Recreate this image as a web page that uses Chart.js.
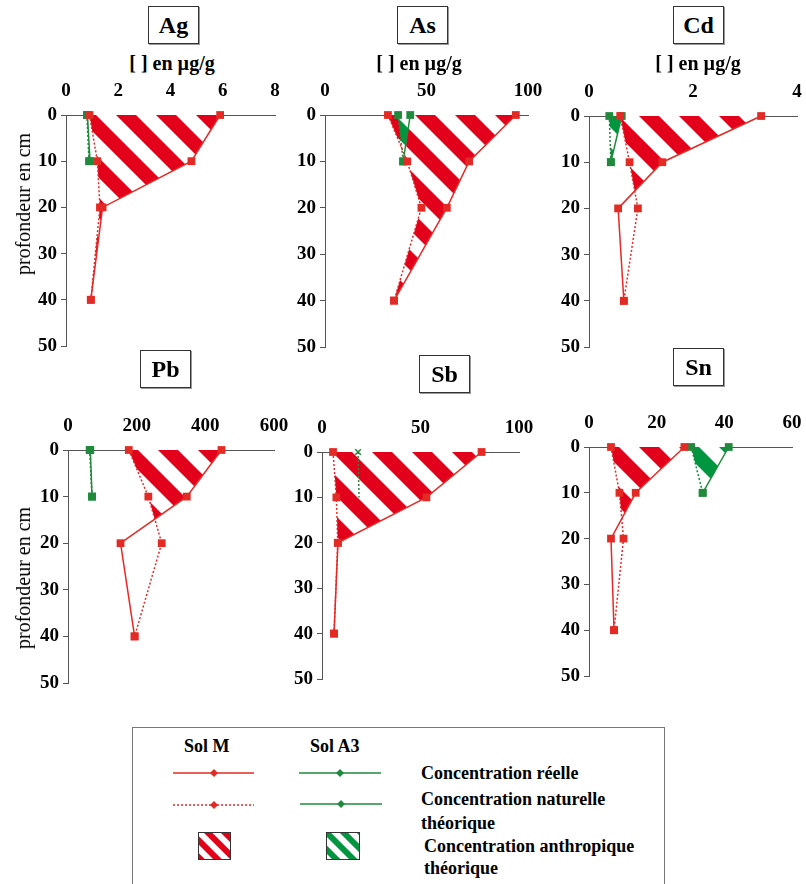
<!DOCTYPE html>
<html>
<head>
<meta charset="utf-8">
<script src="https://cdn.jsdelivr.net/npm/chart.js@4.4.0/dist/chart.umd.min.js"></script>
<style>
  html, body { margin: 0; padding: 0; background: #fff; }
  body { width: 806px; height: 884px; overflow: hidden; position: relative; font-family: "Liberation Serif", "Times New Roman", serif; color: #000; }
  canvas.panel { position: absolute; }
  .elt { position: absolute; width: 51px; height: 38px; border: 1px solid #333; box-shadow: 1px 1px 0 #999; box-sizing: border-box; text-align: center; line-height: 36px; font-weight: bold; font-size: 24px; background: #fff; }
  .unit { position: absolute; top: 52px; font-weight: bold; font-size: 20px; line-height: 22px; transform: translateX(-50%); white-space: nowrap; }
  .depth { position: absolute; font-size: 20px; line-height: 20px; white-space: nowrap; transform: translate(-50%, -50%) rotate(-90deg); }
  #legend { position: absolute; left: 132px; top: 727px; width: 533px; height: 170px; border: 1px solid #777; box-sizing: border-box; }
  #legend .t { position: absolute; font-weight: bold; font-size: 18px; line-height: 20px; white-space: nowrap; }
  #legend svg { position: absolute; left: 0; top: 0; }
</style>
</head>
<body>

<div id="legend">
  <svg width="533" height="170">
    <defs>
      <pattern id="hatchRed" width="12" height="12" patternUnits="userSpaceOnUse" patternTransform="rotate(-45)">
        <rect width="12" height="12" fill="#fff"/><rect width="6" height="12" fill="#e2001a"/>
      </pattern>
      <pattern id="hatchGreen" width="12" height="12" patternUnits="userSpaceOnUse" patternTransform="rotate(-45)">
        <rect width="12" height="12" fill="#fff"/><rect width="6" height="12" fill="#009640"/>
      </pattern>
    </defs>
    <line x1="40" y1="45" x2="121" y2="45" stroke="#e42a24" stroke-width="1.5"/>
    <polygon points="81,41 85,45 81,49 77,45" fill="#e42a24"/>
    <line x1="166" y1="45" x2="248" y2="45" stroke="#1f8a3c" stroke-width="1.5"/>
    <polygon points="207,41 211,45 207,49 203,45" fill="#1f8a3c"/>
    <line x1="40" y1="77" x2="121" y2="77" stroke="#e42a24" stroke-width="1.5" stroke-dasharray="2,2"/>
    <polygon points="81,73 85,77 81,81 77,77" fill="#e42a24"/>
    <line x1="167" y1="76" x2="249" y2="76" stroke="#1f8a3c" stroke-width="1.5"/>
    <polygon points="208,72 212,76 208,80 204,76" fill="#1f8a3c"/>
    <rect x="65.5" y="104.5" width="32" height="27" fill="url(#hatchRed)" stroke="#333"/>
    <rect x="193.5" y="104.5" width="33" height="27" fill="url(#hatchGreen)" stroke="#333"/>
  </svg>
  <div class="t" style="left:51px; top:8px;">Sol M</div>
  <div class="t" style="left:177px; top:8px;">Sol A3</div>
  <div class="t" style="left:288px; top:35px;">Concentration réelle</div>
  <div class="t" style="left:288px; top:61px;">Concentration naturelle</div>
  <div class="t" style="left:288px; top:85px;">théorique</div>
  <div class="t" style="left:291px; top:108px;">Concentration anthropique</div>
  <div class="t" style="left:291px; top:130px;">théorique</div>
</div>

<script>
// Depths (cm) of the samples
const depthsM = [0, 10, 20, 40];
const depthsA3 = [0, 10];
const depthTicks = [0, 10, 20, 30, 40, 50];

// Ag
const agTicks = [0, 2, 4, 6, 8];
const agMReal = [5.9, 4.8, 1.4, 0.95];
const agMNat = [0.9, 1.2, 1.3, 0.95];
const agA3Real = [0.82, 0.92];
const agA3Nat = [0.8, 0.88];

// As
const asTicks = [0, 50, 100];
const asMReal = [94, 71, 60, 34];
const asMNat = [31, 40.5, 47.5, 34];
const asA3Real = [42, 38.5];
const asA3Nat = [36, 38.5];

// Cd
const cdTicks = [0, 2, 4];
const cdMReal = [3.31, 1.41, 0.56, 0.67];
const cdMNat = [0.6, 0.78, 0.94, 0.67];
const cdA3Real = [0.63, 0.42];
const cdA3Nat = [0.39, 0.42];

// Pb
const pbTicks = [0, 200, 400, 600];
const pbMReal = [447, 346, 153, 194];
const pbMNat = [177, 234, 273, 194];
const pbA3Real = [65, 70];
const pbA3Nat = [63, 70];

// Sb
const sbTicks = [0, 50, 100];
const sbMReal = [81, 53, 8.1, 6.1];
const sbMNat = [5.6, 7.3, 8.0, 6.1];
const sbA3Real = [];
const sbA3Nat = [18.3, 18.8];

// Sn
const snTicks = [0, 20, 40, 60];
const snMReal = [28.2, 13.8, 6.5, 7.4];
const snMNat = [6.5, 9, 10.2, 7.4];
const snA3Real = [41.3, 33.6];
const snA3Nat = [30.2, 33.6];

const RED = '#e42a24';
const GREEN = '#1f8a3c';
const FONT = '"Liberation Serif", "Times New Roman", serif';

// Striped pattern used for the anthropic part
function makeHatch(color) {
    const p = 40;
    const c = document.createElement('canvas');
    c.width = p; c.height = p;
    const g = c.getContext('2d');
    g.fillStyle = '#fff';
    g.fillRect(0, 0, p, p);
    g.strokeStyle = color;
    g.lineWidth = p / Math.SQRT2 / 2;
    for (let k = -1; k <= 1; k++) {
        g.beginPath();
        g.moveTo(k * p - p, -p);
        g.lineTo(k * p + 2 * p, 2 * p);
        g.stroke();
    }
    return g.createPattern(c, 'repeat');
}
const hatchRed = makeHatch('#e2001a');
const hatchGreen = makeHatch('#009640');

// Fill between real and natural profiles where real > natural
function hatchPlugin(pairs) {
    return {
        id: 'hatch',
        beforeDatasetsDraw(chart) {
            const { ctx, chartArea } = chart;
            pairs.forEach(([ri, ni, pattern]) => {
                const real = chart.getDatasetMeta(ri).data;
                const nat = chart.getDatasetMeta(ni).data;
                if (!real.length || real.length !== nat.length) return;
                ctx.save();
                ctx.beginPath();
                nat.forEach((pt, i) => i ? ctx.lineTo(pt.x, pt.y) : ctx.moveTo(pt.x, pt.y));
                ctx.lineTo(chartArea.right + 60, nat[nat.length - 1].y);
                ctx.lineTo(chartArea.right + 60, nat[0].y);
                ctx.closePath();
                ctx.clip();
                ctx.beginPath();
                real.forEach((pt, i) => i ? ctx.lineTo(pt.x, pt.y) : ctx.moveTo(pt.x, pt.y));
                ctx.lineTo(chartArea.left - 60, real[real.length - 1].y);
                ctx.lineTo(chartArea.left - 60, real[0].y);
                ctx.closePath();
                ctx.clip();
                ctx.fillStyle = pattern;
                ctx.fillRect(0, 0, chart.width, chart.height);
                ctx.restore();
            });
        }
    };
}

function toPoints(values, depths) {
    return values.map((v, i) => ({ x: v, y: depths[i] }));
}

function profile(values, depths, color, dotted, extra) {
    return Object.assign({
        data: toPoints(values, depths),
        showLine: true,
        borderColor: color,
        backgroundColor: color,
        borderWidth: 1.5,
        borderDash: dotted ? [2, 2] : [],
        pointStyle: 'rect',
        pointRadius: 5.5,
        pointBorderWidth: 0,
        clip: false
    }, extra || {});
}

const panels = [
    { name: 'Ag', ticks: agTicks, mReal: agMReal, mNat: agMNat, a3Real: agA3Real, a3Nat: agA3Nat, area: [66, 115, 275, 346], box: [148, 6], unitX: 172, depth: [23, 204] },
    { name: 'As', ticks: asTicks, mReal: asMReal, mNat: asMNat, a3Real: asA3Real, a3Nat: asA3Nat, area: [325, 115, 528, 347], box: [397, 6], unitX: 419 },
    { name: 'Cd', ticks: cdTicks, mReal: cdMReal, mNat: cdMNat, a3Real: cdA3Real, a3Nat: cdA3Nat, area: [589, 116, 797, 347], box: [673, 6], unitX: 698 },
    { name: 'Pb', ticks: pbTicks, mReal: pbMReal, mNat: pbMNat, a3Real: pbA3Real, a3Nat: pbA3Nat, area: [68, 450, 274, 683], box: [140, 350], depth: [23, 578] },
    { name: 'Sb', ticks: sbTicks, mReal: sbMReal, mNat: sbMNat, a3Real: sbA3Real, a3Nat: sbA3Nat, area: [322, 452, 519, 679], box: [419, 355],
      a3NatStyle: { pointStyle: ['crossRot', 'line'], pointRadius: [4, 0], pointBorderWidth: 1.5, borderWidth: 1.5 } },
    { name: 'Sn', ticks: snTicks, mReal: snMReal, mNat: snMNat, a3Real: snA3Real, a3Nat: snA3Nat, area: [589, 447, 792, 676], box: [673, 348] }
];

function makePanel(p) {
    const pad = { left: 60, top: 40, right: 20, bottom: 16 };
    const [L, T, R, B] = p.area;
    const w = R - L + pad.left + pad.right;
    const h = B - T + pad.top + pad.bottom;
    const canvas = document.createElement('canvas');
    canvas.className = 'panel';
    canvas.width = w;
    canvas.height = h;
    canvas.style.left = (L - pad.left) + 'px';
    canvas.style.top = (T - pad.top) + 'px';
    canvas.style.width = w + 'px';
    canvas.style.height = h + 'px';
    document.body.appendChild(canvas);

    // element name box
    const box = document.createElement('div');
    box.className = 'elt';
    box.style.left = p.box[0] + 'px';
    box.style.top = p.box[1] + 'px';
    box.textContent = p.name;
    document.body.appendChild(box);

    if (p.unitX) {
        const u = document.createElement('div');
        u.className = 'unit';
        u.style.left = p.unitX + 'px';
        u.textContent = '[ ] en µg/g';
        document.body.appendChild(u);
    }
    if (p.depth) {
        const d = document.createElement('div');
        d.className = 'depth';
        d.style.left = p.depth[0] + 'px';
        d.style.top = p.depth[1] + 'px';
        d.textContent = 'profondeur en cm';
        document.body.appendChild(d);
    }

    const greenNat = Object.assign({ borderColor: GREEN }, p.a3NatStyle || {});
    const datasets = [
        profile(p.mReal, depthsM, RED, false),
        profile(p.mNat, depthsM, RED, true),
        profile(p.a3Real, depthsA3, GREEN, false),
        profile(p.a3Nat, depthsA3, GREEN, true, greenNat)
    ];

    const tickFont = { family: FONT, size: 19, weight: 'bold' };
    const n = p.ticks.length;

    new Chart(canvas, {
        type: 'scatter',
        data: { datasets: datasets },
        options: {
            responsive: false,
            animation: false,
            events: [],
            layout: { padding: { left: 0, top: 0, right: pad.right, bottom: pad.bottom } },
            plugins: { legend: { display: false }, tooltip: { enabled: false } },
            scales: {
                x: {
                    type: 'linear',
                    position: 'top',
                    min: p.ticks[0],
                    max: p.ticks[n - 1],
                    afterBuildTicks: s => { s.ticks = p.ticks.map(v => ({ value: v })); },
                    ticks: { padding: 5, color: '#000', font: tickFont, autoSkip: false, maxRotation: 0 },
                    grid: { display: false },
                    border: { display: true, color: '#555', width: 1 },
                    afterFit: s => { s.height = pad.top; }
                },
                y: {
                    type: 'linear',
                    reverse: true,
                    min: depthTicks[0],
                    max: depthTicks[depthTicks.length - 1],
                    afterBuildTicks: s => { s.ticks = depthTicks.map(v => ({ value: v })); },
                    ticks: { padding: 4, color: '#000', font: tickFont, autoSkip: false },
                    grid: { display: true, drawOnChartArea: false, drawTicks: true, tickLength: 5, color: '#555' },
                    border: { display: true, color: '#555', width: 1 },
                    afterFit: s => { s.width = pad.left; }
                }
            }
        },
        plugins: [hatchPlugin([[0, 1, hatchRed], [2, 3, hatchGreen]])]
    });
}

panels.forEach(makePanel);
</script>
</body>
</html>
